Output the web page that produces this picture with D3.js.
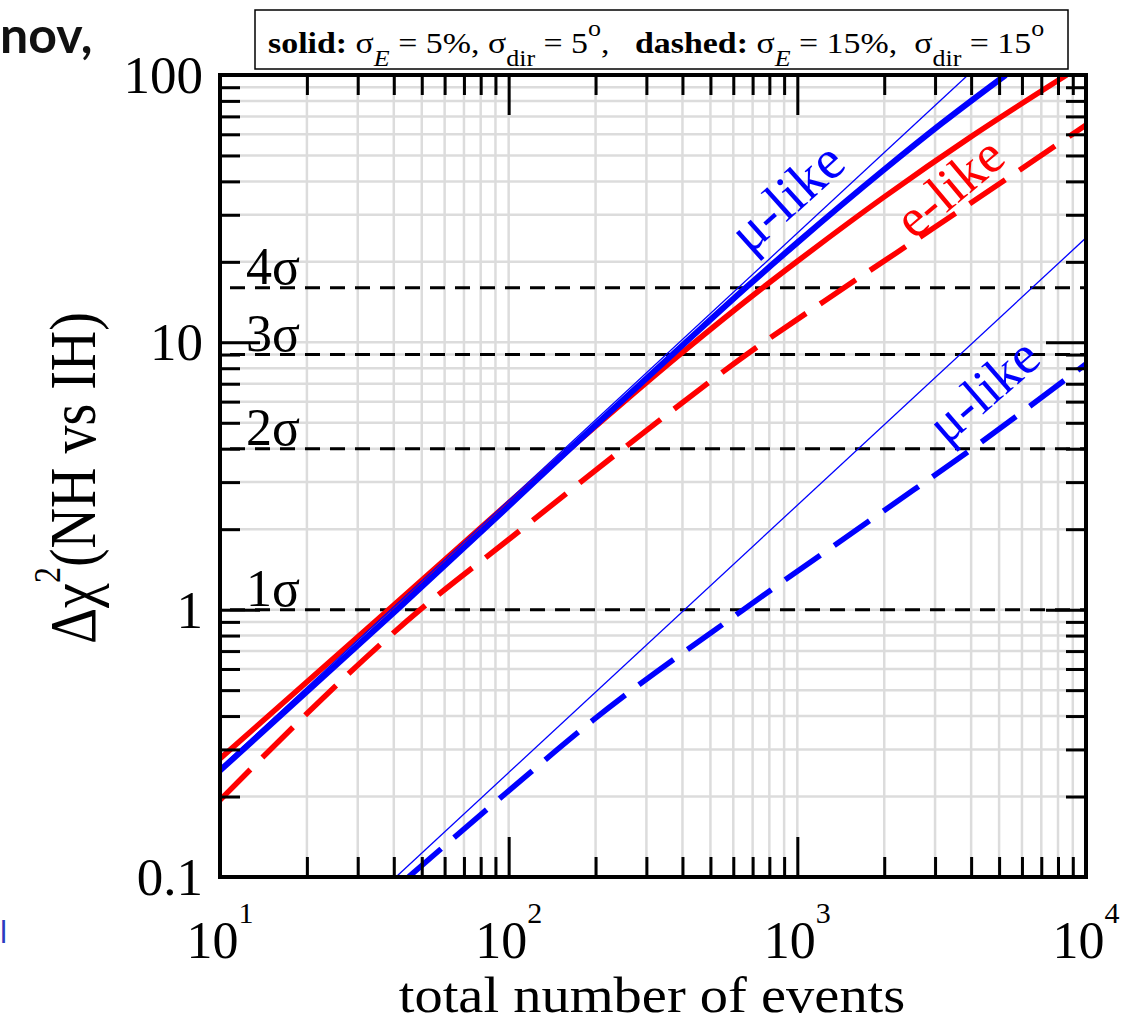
<!DOCTYPE html>
<html><head><meta charset="utf-8">
<script src="https://cdn.jsdelivr.net/npm/d3@7"></script>
<style>
html,body{margin:0;padding:0;background:#fff;}
svg{display:block;}
text{font-family:"Liberation Serif","Times New Roman",serif;}
</style></head><body>
<svg id="chart" width="1143" height="1023"></svg>
<script>
// ---------- data ----------
const xDecades = [10, 100, 1000, 10000];
const xTickBase = ["10", "10", "10", "10"];
const xTickExp = ["1", "2", "3", "4"];
const yDecades = [0.1, 1, 10, 100];
const yTickLabels = ["0.1", "1", "10", "100"];
const sigmaLevels = [1, 4, 9, 16];
const sigmaLabels = ["1σ", "2σ", "3σ", "4σ"];

// solid: sigma_E = 5%, sigma_dir = 5 deg
const muSolidN    = [10, 41, 100, 163, 398, 667, 1000, 2000, 3162, 5270];
const muSolidChi2 = [0.25, 1, 2.44, 4, 9.7, 16.1, 23.6, 44.3, 65.9, 100];
const eSolidN     = [10, 40, 100, 163, 401, 751, 1000, 2000, 4000, 8570];
const eSolidChi2  = [0.277, 1.04, 2.51, 4, 9.19, 15.86, 20.1, 35.0, 58.8, 100];
// dashed: sigma_E = 15%, sigma_dir = 15 deg
const eDashedN     = [10, 49.4, 100, 249, 667, 1452, 3000, 10000];
const eDashedChi2  = [0.194, 1, 1.83, 4, 9, 16, 27, 65];
const muDashedN    = [45, 100, 196, 650, 2000, 4030, 10000];
const muDashedChi2 = [0.1, 0.21, 0.386, 1, 2.35, 4, 8.3];
// thin reference lines (mu-like)
const muRef5N     = [10, 3900];
const muRef5Chi2  = [0.256, 100];
const muRef15N    = [40.7, 10000];
const muRef15Chi2 = [0.1, 24.6];

// curve labels (baseline centre in data coords)
const labelTexts  = ["μ-like", "e-like", "μ-like"];
const labelN      = [1013, 3690, 4842];
const labelChi2   = [31.0, 33.8, 5.88];
const labelColors = ["#0000ff", "#ff0000", "#0000ff"];
const labelAngles = [-42, -40, -41];
const labelSizes  = [56, 54, 54];

// ---------- layout ----------
const X0 = 220, X1 = 1086, Y0 = 75, Y1 = 877;
const svg = d3.select("#chart");
const x = d3.scaleLog().domain([10, 1e4]).range([X0, X1]);
const y = d3.scaleLog().domain([0.1, 100]).range([Y1, Y0]);

const minorX = []; xDecades.slice(0, -1).forEach(d => { for (let k = 2; k <= 9; k++) minorX.push(d * k); });
const minorY = []; yDecades.slice(0, -1).forEach(d => { for (let k = 2; k <= 9; k++) minorY.push(d * k); });

// grid
const grid = svg.append("g").attr("stroke", "#dcdcdc").attr("stroke-width", 2.5);
grid.selectAll("line.gx").data(minorX.concat(xDecades)).join("line").attr("class", "gx")
  .attr("x1", d => x(d)).attr("x2", d => x(d)).attr("y1", Y0).attr("y2", Y1);
grid.selectAll("line.gy").data(minorY.concat(yDecades)).join("line").attr("class", "gy")
  .attr("y1", d => y(d)).attr("y2", d => y(d)).attr("x1", X0).attr("x2", X1);

// sigma lines
svg.append("g").selectAll("line").data(sigmaLevels).join("line")
  .attr("x1", 230).attr("x2", X1).attr("y1", d => y(d)).attr("y2", d => y(d))
  .attr("stroke", "#000").attr("stroke-width", 3).attr("stroke-dasharray", "15,10");

// clip
svg.append("clipPath").attr("id", "clip").append("rect")
  .attr("x", X0).attr("y", Y0).attr("width", X1 - X0).attr("height", Y1 - Y0);

const line = d3.line().x(d => x(d[0])).y(d => y(d[1])).curve(d3.curveMonotoneX);
const zip = (a, b) => a.map((v, i) => [v, b[i]]);
const series = [
  {d: zip(eDashedN, eDashedChi2), c: "#ff0000", w: 5.5, dash: "43,17"},
  {d: zip(muDashedN, muDashedChi2), c: "#0000ff", w: 5.5, dash: "43,17"},
  {d: zip(eSolidN, eSolidChi2), c: "#ff0000", w: 5.5, dash: null},
  {d: zip(muSolidN, muSolidChi2), c: "#0000ff", w: 6, dash: null},
  {d: zip(muRef5N, muRef5Chi2), c: "#0000ff", w: 1.3, dash: null},
  {d: zip(muRef15N, muRef15Chi2), c: "#0000ff", w: 1.3, dash: null}
];
const cg = svg.append("g").attr("clip-path", "url(#clip)");
series.forEach(s => {
  cg.append("path").attr("d", line(s.d)).attr("fill", "none")
    .attr("stroke", s.c).attr("stroke-width", s.w)
    .attr("stroke-dasharray", s.dash);
});

// ticks
function ticks(axisGen, transform, vals, size) {
  svg.append("g").attr("transform", transform)
    .call(axisGen.tickValues(vals).tickSize(size).tickFormat(""))
    .call(g => g.select(".domain").remove())
    .selectAll("line").attr("stroke", "#000").attr("stroke-width", 3);
}
ticks(d3.axisBottom(x), `translate(0,${Y1})`, xDecades, -40);
ticks(d3.axisBottom(x), `translate(0,${Y1})`, minorX, -20);
ticks(d3.axisTop(x), `translate(0,${Y0})`, xDecades, -40);
ticks(d3.axisTop(x), `translate(0,${Y0})`, minorX, -20);
ticks(d3.axisLeft(y), `translate(${X0},0)`, yDecades, -40);
ticks(d3.axisLeft(y), `translate(${X0},0)`, minorY, -20);
ticks(d3.axisRight(y), `translate(${X1},0)`, yDecades, -40);
ticks(d3.axisRight(y), `translate(${X1},0)`, minorY, -20);

// frame
svg.append("rect").attr("x", X0).attr("y", Y0).attr("width", X1 - X0).attr("height", Y1 - Y0)
  .attr("fill", "none").attr("stroke", "#000").attr("stroke-width", 4);

// sigma labels
svg.append("g").selectAll("text").data(sigmaLevels).join("text")
  .attr("x", 246).attr("y", d => y(d) - 4).attr("font-size", 52).attr("fill", "#000")
  .text((d, i) => sigmaLabels[i]);

// y tick labels
svg.append("g").selectAll("text").data(yDecades).join("text")
  .attr("x", 203).attr("y", d => y(d)).attr("dy", "0.34em").attr("text-anchor", "end")
  .attr("font-size", 53).text((d, i) => yTickLabels[i]);

// x tick labels
const xl = svg.append("g").selectAll("text").data(xDecades).join("text")
  .attr("x", d => x(d)).attr("y", 958).attr("text-anchor", "middle").attr("font-size", 52);
xl.append("tspan").text((d, i) => xTickBase[i]);
xl.append("tspan").attr("dy", -35).attr("font-size", 30).text((d, i) => xTickExp[i]);

// axis titles
svg.append("text").attr("transform", "translate(652,1012) scale(1.13,1)")
  .attr("text-anchor", "middle").attr("font-size", 50).text("total number of events");
const yt = svg.append("text").attr("transform", "translate(95,478) rotate(-90) scale(1,1.18)")
  .attr("text-anchor", "middle").attr("font-size", 56);
yt.append("tspan").text("Δχ");
yt.append("tspan").attr("dy", -30).attr("font-size", 32).text("2");
yt.append("tspan").attr("dy", 30).text("(NH vs IH)");

// curve labels
svg.append("g").selectAll("text").data(labelTexts).join("text")
  .attr("transform", (d, i) => `translate(${x(labelN[i])},${y(labelChi2[i])}) rotate(${labelAngles[i]})`)
  .attr("text-anchor", "middle").attr("font-size", (d, i) => labelSizes[i])
  .attr("fill", (d, i) => labelColors[i]).text(d => d);

// legend box
svg.append("rect").attr("x", 255).attr("y", 10).attr("width", 813).attr("height", 59)
  .attr("fill", "#fff").attr("stroke", "#000").attr("stroke-width", 1.5);
const lt = svg.append("text").attr("transform", "translate(268,53) scale(1.13,1)")
  .attr("font-size", 30).style("white-space", "pre");
const parts = [
  {t: "solid:", b: 1}, {t: " σ"}, {t: "E", sub: 1, it: 1}, {t: " = 5%, σ"}, {t: "dir", sub: 1},
  {t: " = 5"}, {t: "o", sup: 1}, {t: ",   "}, {t: "dashed:", b: 1}, {t: " σ"}, {t: "E", sub: 1, it: 1},
  {t: " = 15%,  σ"}, {t: "dir", sub: 1}, {t: " = 15"}, {t: "o", sup: 1}
];
let shift = 0;
parts.forEach(p => {
  const target = p.sub ? 13 : (p.sup ? -17 : 0);
  const ts = lt.append("tspan").attr("dy", target - shift).text(p.t);
  shift = target;
  if (p.b) ts.attr("font-weight", "bold");
  if (p.it) ts.attr("font-style", "italic");
  if (p.sub || p.sup) ts.attr("font-size", 23);
});

// cut-off text fragments at the left edge
svg.append("text").attr("x", 0).attr("y", 53).attr("font-weight", 700)
  .attr("font-size", 50).attr("fill", "#111").style("font-family", "Lato, sans-serif").text("nov,");
svg.append("text").attr("x", 0).attr("y", 943).style("font-family", "Lato, sans-serif")
  .attr("font-size", 30).attr("fill", "#2a3cc0").text("l");
</script>
</body></html>
